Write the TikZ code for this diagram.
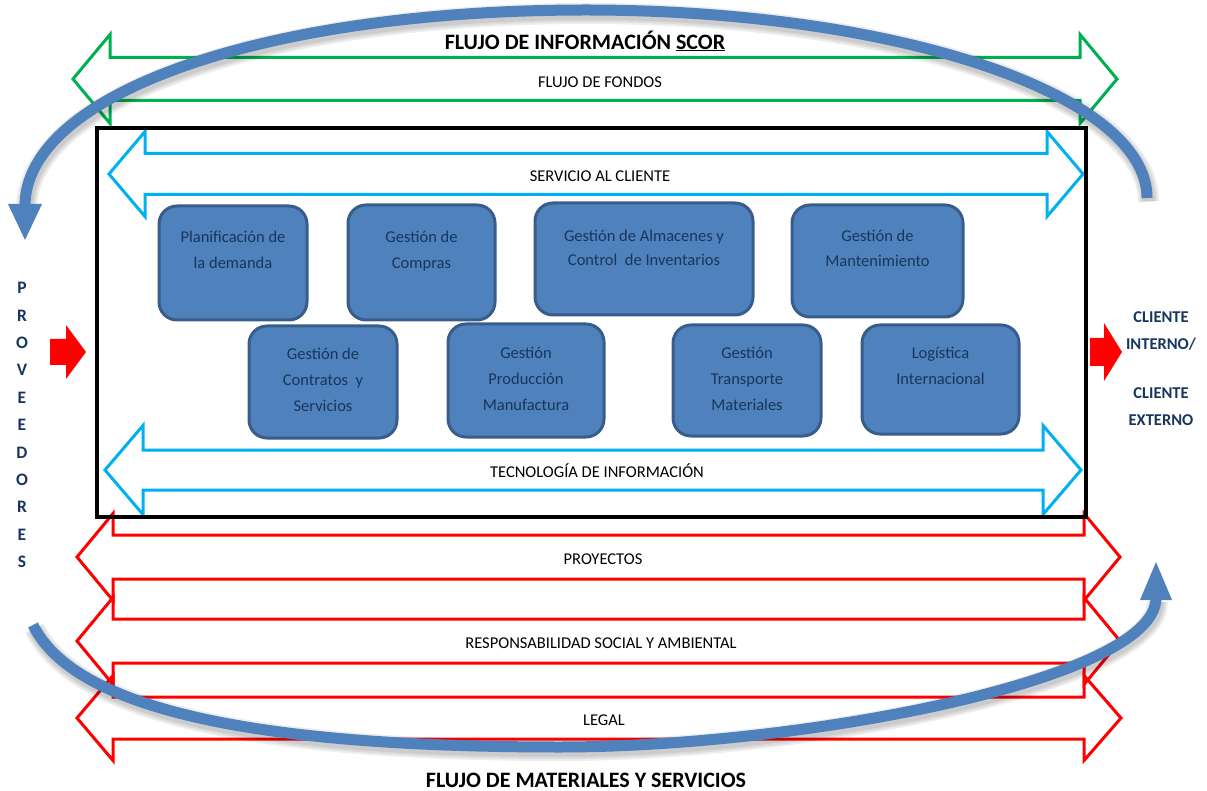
\documentclass[tikz,border=0pt]{standalone}
\usepackage{fontspec}
\setmainfont{Carlito}
\definecolor{arcblue}{HTML}{4F81BD}
\definecolor{boxedge}{HTML}{385D8A}
\definecolor{navy}{HTML}{17365D}
\definecolor{fundgreen}{HTML}{00B050}
\definecolor{svccyan}{HTML}{00B0F0}
\definecolor{flowred}{HTML}{FF0000}
% outlined double-headed band:
% #1 style, #2 left tip x, #3 left head back x, #4 right head back x,
% #5 right tip x, #6 centre y, #7 shaft half height, #8 head half height
\newcommand\flowband[8]{%
  \draw[#1] (#2,#6) -- (#3,#6-#8) -- (#3,#6-#7) -- (#4,#6-#7) -- (#4,#6-#8)
    -- (#5,#6) -- (#4,#6+#8) -- (#4,#6+#7) -- (#3,#6+#7) -- (#3,#6+#8) -- cycle;}
% the two loop paths, reused for their soft shadows
\newcommand\infoloop{(1147,198) .. controls (1147,94) and (896,10) .. (586,10)
  .. controls (260,10) and (25,95) .. (25,206)}
\newcommand\matloop{(33,625) .. controls (80,720) and (300,747) .. (560,747)
  .. controls (800,747) and (1156,680) .. (1156,598)}
\begin{document}
\begin{tikzpicture}[x=1pt,y=-1pt,
  band/.style={line width=3pt, line join=miter},
  bandlabel/.style={font=\fontsize{16.5}{20}\selectfont, inner sep=0,
    text height=10.6pt, text depth=0pt},
  title/.style={font=\bfseries\fontsize{22}{26}\selectfont, inner sep=0,
    text height=14.2pt, text depth=0pt},
  procbox/.style={draw=boxedge, line width=3pt, fill=arcblue,
    rounded corners=18pt, inner sep=0},
  proctext/.style={font=\fontsize{16.5}{26}\selectfont, text=navy,
    align=center, inner sep=0, anchor=north},
  sideletter/.style={font=\bfseries\fontsize{17.5}{20}\selectfont, text=navy,
    inner sep=0, text height=11.3pt, text depth=0pt},
  sidetext/.style={font=\bfseries\fontsize{16.5}{27.5}\selectfont, text=navy,
    align=center, inner sep=0},
  flow/.style={arcblue, line width=11pt},
  flowshade/.style={black, opacity=0.07, line width=#1,
    transform canvas={shift={(1.5pt,-3.5pt)}}},
  blockarrow/.style={fill=flowred},
]
\useasboundingbox (0,0) rectangle (1207,791);

% horizontal flow bands
\flowband{band, fundgreen}{73}{110}{1080}{1117}{79}{21.5}{44.5}
\flowband{band, svccyan}{109}{145}{1047}{1083}{174}{20.5}{42.5}
\flowband{band, svccyan}{105}{143}{1043}{1081}{470}{20}{44.5}
\flowband{band, flowred}{77}{113}{1084}{1120}{557}{22}{43.5}
\flowband{band, flowred}{77}{113}{1084}{1120}{641}{22}{43.5}
\flowband{band, flowred}{77}{113}{1084}{1121}{718}{21}{42.5}

% supply chain frame
\draw[line width=3.5pt] (97,128) rectangle (1086,517);

% band labels and titles
\node[title] (scor) at (585,42) {FLUJO DE INFORMACIÓN \underline{SCOR}};
\node[bandlabel] (fondos) at (600,82) {FLUJO DE FONDOS};
\node[bandlabel] (servicio) at (600,176) {SERVICIO AL CLIENTE};
\node[bandlabel] (tic) at (597,472) {TECNOLOGÍA DE INFORMACIÓN};
\node[bandlabel] (proy) at (603,559) {PROYECTOS};
\node[bandlabel] (rsa) at (601,643) {RESPONSABILIDAD SOCIAL Y AMBIENTAL};
\node[bandlabel] (legal) at (604,720) {LEGAL};
\node[title] (mat) at (586,780) {FLUJO DE MATERIALES Y SERVICIOS};

% process boxes
\node[procbox, minimum width=148pt, minimum height=114pt] (b1) at (233,263) {};
\node[procbox, minimum width=147pt, minimum height=115pt] (b2) at (421.5,262.5) {};
\node[procbox, minimum width=218pt, minimum height=112pt] (b3) at (644,259) {};
\node[procbox, minimum width=171pt, minimum height=112pt] (b4) at (877.5,261) {};
\node[procbox, minimum width=148pt, minimum height=112pt] (b5) at (323,382) {};
\node[procbox, minimum width=156pt, minimum height=113pt] (b6) at (526,380.5) {};
\node[procbox, minimum width=148pt, minimum height=111pt] (b7) at (747,380.5) {};
\node[procbox, minimum width=157pt, minimum height=109pt] (b8) at (940.5,379.5) {};

\node[proctext] (t1) at ([yshift=-26pt]b1.north) {Planificación de\\la demanda};
\node[proctext] (t2) at ([yshift=-27pt]b2.north) {Gestión de\\Compras};
\node[proctext, font=\fontsize{16.5}{24.5}\selectfont] (t3) at ([yshift=-28pt]b3.north) {Gestión de Almacenes y\\Control\ \ de Inventarios};
\node[proctext, font=\fontsize{16.5}{25}\selectfont] (t4) at ([yshift=-26pt]b4.north) {Gestión de\\Mantenimiento};
\node[proctext] (t5) at ([yshift=-23pt]b5.north) {Gestión de\\Contratos\ \ y\\Servicios};
\node[proctext] (t6) at ([yshift=-24pt]b6.north) {Gestión\\Producción\\Manufactura};
\node[proctext] (t7) at ([yshift=-23pt]b7.north) {Gestión\\Transporte\\Materiales};
\node[proctext] (t8) at ([yshift=-23pt]b8.north) {Logística\\Internacional};

% suppliers and customers
\foreach \ch [count=\i] in {P,R,O,V,E,E,D,O,R,E,S}
  \node[sideletter] (prov\i) at (22,260.6+27.4*\i) {\ch};
\node[sidetext] (cli1) at (1161,331) {CLIENTE\\INTERNO/};
\node[sidetext] (cli2) at (1161,406.5) {CLIENTE\\EXTERNO};

% inflow and outflow block arrows
\fill[blockarrow] (50,339) -- (66,339) -- (66,325) -- (86,352) -- (66,379)
  -- (66,365) -- (50,365) -- cycle;
\fill[blockarrow] (1090,338) -- (1104,338) -- (1104,323) -- (1122,352)
  -- (1104,381) -- (1104,366) -- (1090,366) -- cycle;

% soft shadows under the loops
\foreach \w in {21,17,13}{
  \draw[flowshade=\w pt] \infoloop;
  \draw[flowshade=\w pt] \matloop;
}

% information loop (top) and material loop (bottom)
\draw[flow] \infoloop;
\fill[arcblue] (8,204) -- (42,204) -- (25,240) -- cycle;
\draw[flow] \matloop;
\fill[arcblue] (1140,600) -- (1172,600) -- (1156,562) -- cycle;
\end{tikzpicture}
\end{document}
